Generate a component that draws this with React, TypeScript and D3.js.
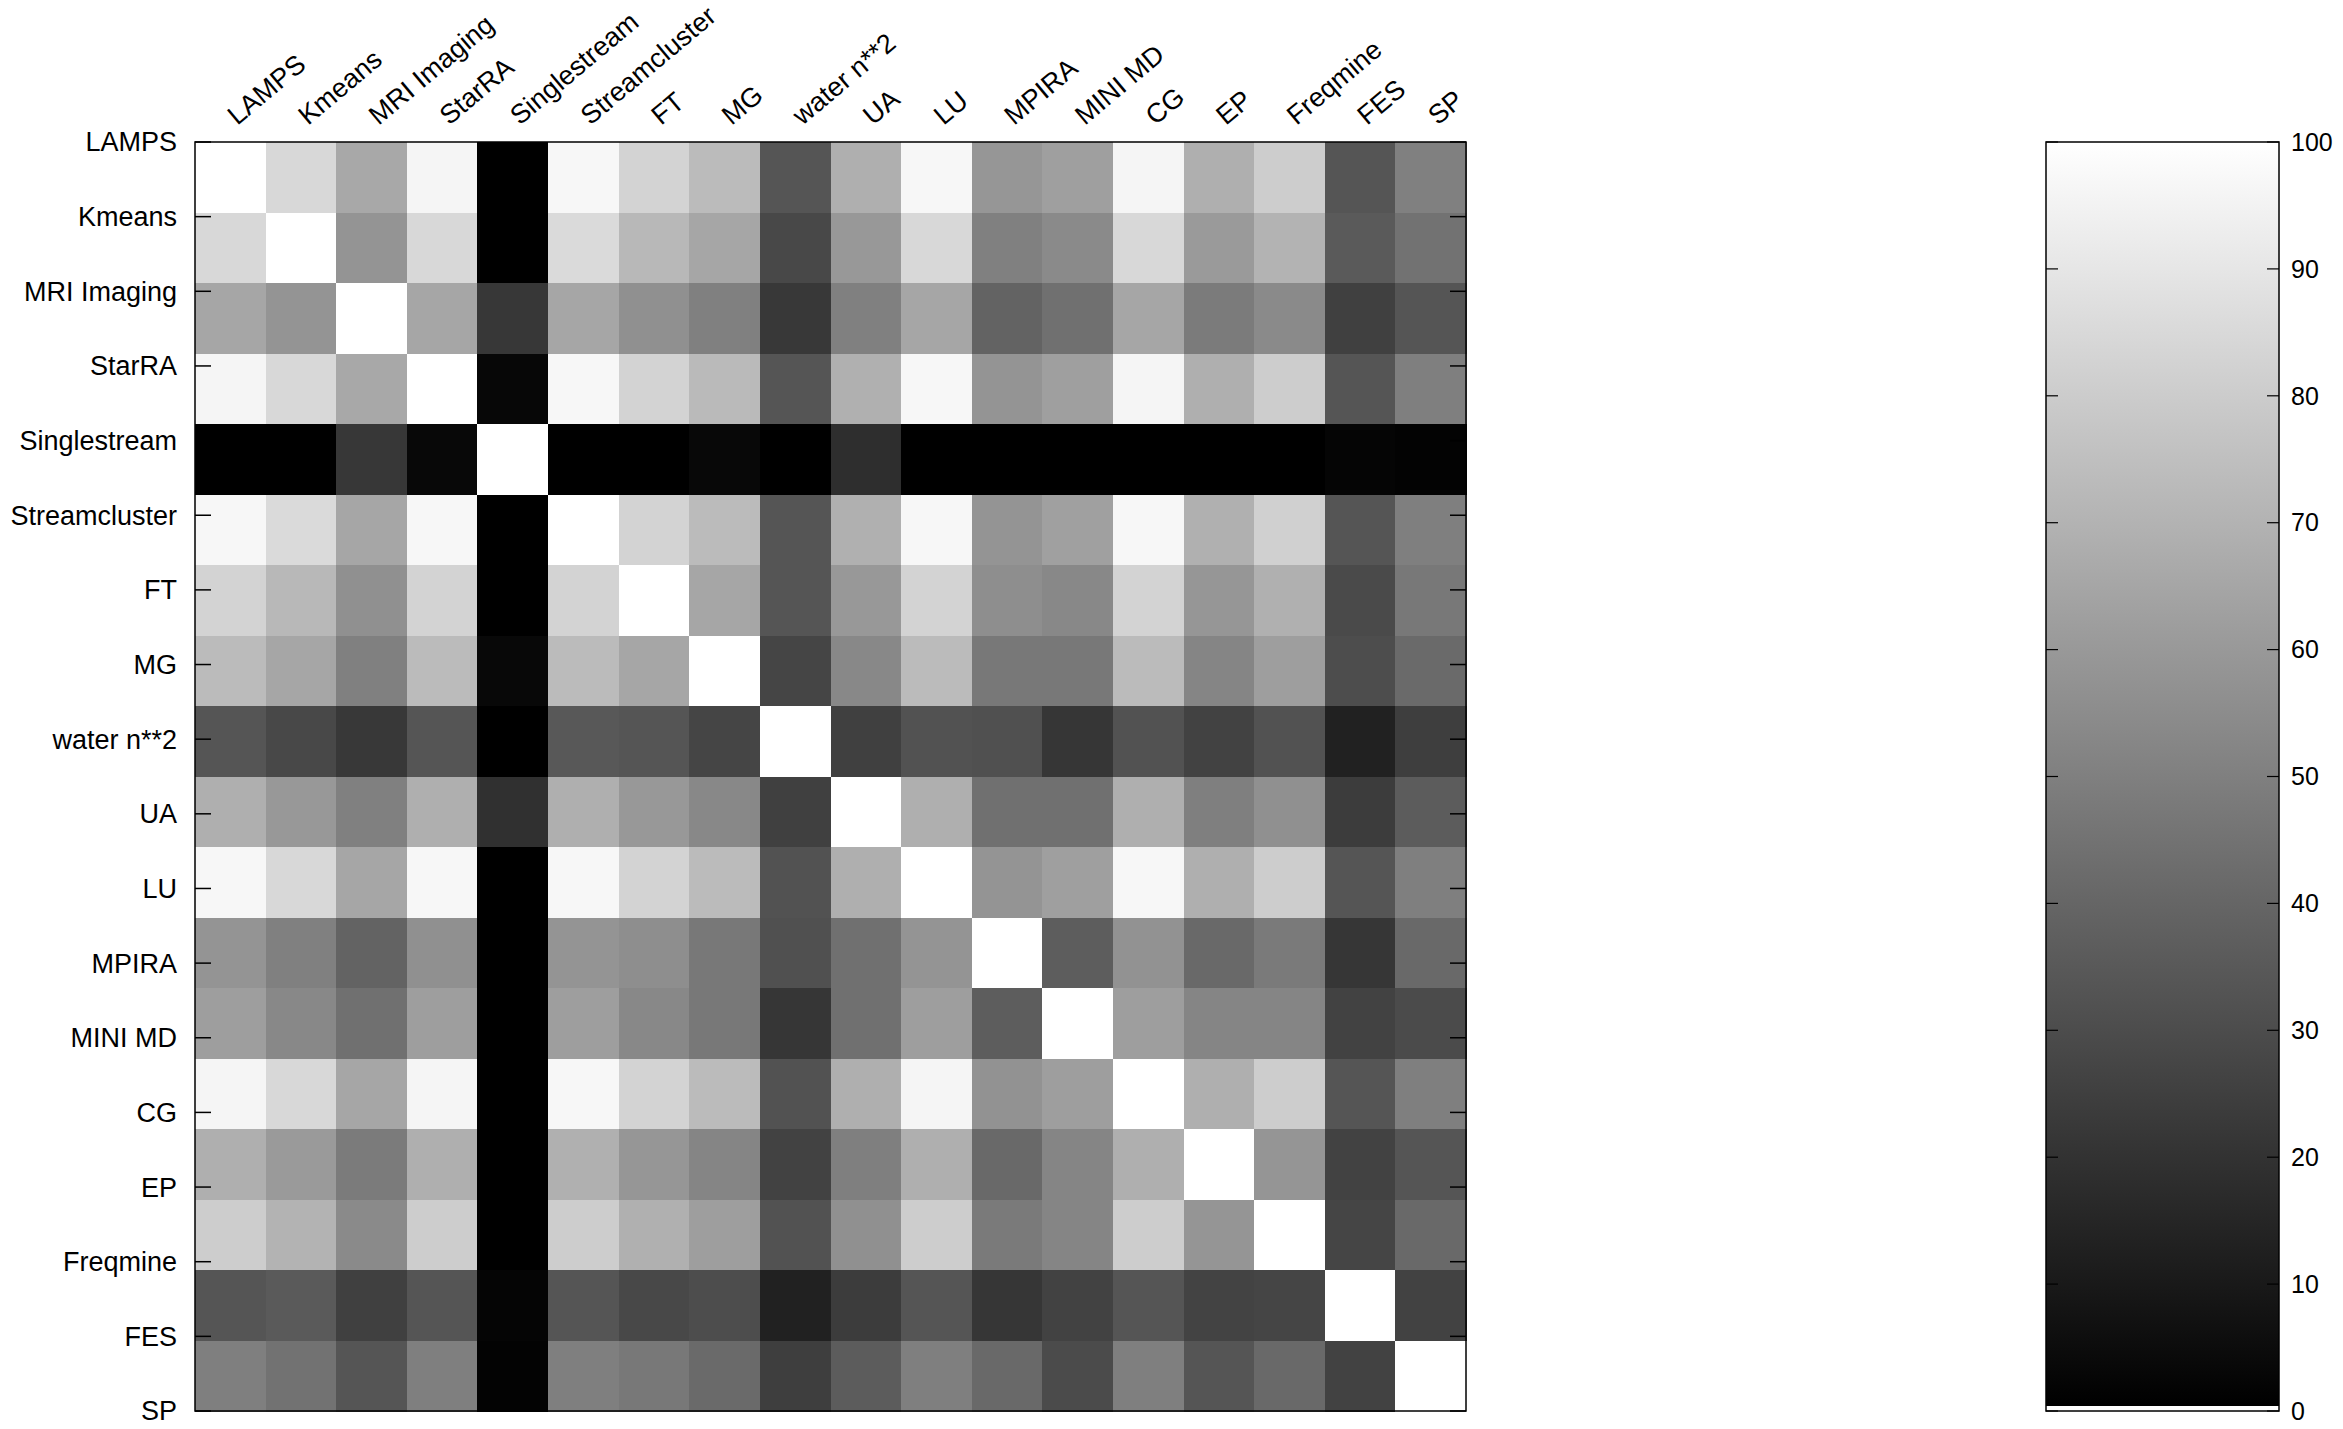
// Similarity heatmap of 18 benchmark apps with a grey colour bar
import React, { useEffect, useRef } from 'react';
import * as d3 from 'd3';

const apps = ['LAMPS', 'Kmeans', 'MRI Imaging', 'StarRA', 'Singlestream', 'Streamcluster', 'FT', 'MG', 'water n**2',
  'UA', 'LU', 'MPIRA', 'MINI MD', 'CG', 'EP', 'Freqmine', 'FES', 'SP'];

// one row per app, same order as the columns (0..100)
const rowLAMPS = [100, 84.7, 65.9, 96.1, 0, 96.9, 82.7, 73.3, 33.3, 68.6, 96.9, 58.8, 62.4, 96.1, 68.6, 80.4, 33.3, 50.2];
const rowKmeans = [84.7, 100, 58.0, 84.7, 0, 85.5, 72.2, 65.1, 28.2, 59.6, 84.7, 50.2, 54.1, 84.7, 60.4, 70.2, 35.3, 44.7];
const rowMRI = [65.1, 58.0, 100, 65.1, 21.6, 65.1, 56.5, 50.2, 22.0, 50.2, 65.1, 38.8, 43.9, 65.1, 48.2, 54.1, 25.1, 33.3];
const rowStarRA = [96.1, 84.7, 65.9, 100, 2.7, 96.9, 82.7, 72.9, 33.3, 69.0, 96.9, 58.0, 62.4, 96.1, 68.6, 80.4, 33.3, 49.8];
const rowSinglestream = [0, 0, 21.6, 3.1, 100, 0, 0, 3.1, 0, 18.0, 0, 0, 0, 0, 0, 0, 2.0, 1.2];
const rowStreamcluster = [96.9, 85.5, 65.1, 96.9, 0, 100, 82.7, 73.3, 33.3, 69.0, 96.9, 58.0, 62.7, 96.9, 69.0, 81.6, 33.3, 49.8];
const rowFT = [82.7, 72.2, 56.5, 82.7, 0, 82.7, 100, 65.1, 33.3, 59.6, 82.7, 55.7, 53.3, 82.7, 58.8, 69.0, 29.0, 47.1];
const rowMG = [73.3, 65.1, 50.2, 73.3, 3.1, 73.3, 65.1, 100, 27.1, 53.3, 73.3, 47.1, 47.1, 73.3, 52.2, 62.0, 30.2, 41.6];
const rowWater = [33.3, 28.2, 22.0, 33.3, 0, 34.5, 33.3, 27.1, 100, 25.1, 32.2, 31.4, 21.2, 32.2, 25.9, 32.2, 12.9, 24.3];
const rowUA = [68.6, 59.6, 50.2, 68.6, 18.8, 68.6, 59.6, 53.3, 25.1, 100, 68.6, 43.9, 43.9, 68.6, 49.8, 56.5, 23.5, 36.1];
const rowLU = [96.9, 84.7, 65.1, 96.9, 0, 96.9, 82.7, 73.3, 32.2, 68.6, 100, 58.0, 62.4, 96.9, 68.6, 80.4, 33.3, 49.8];
const rowMPIRA = [58.0, 50.2, 38.8, 56.5, 0, 58.0, 55.7, 47.1, 31.4, 43.9, 58.0, 100, 36.5, 57.3, 41.2, 47.8, 21.2, 41.2];
const rowMINIMD = [62.0, 53.3, 43.9, 62.0, 0, 62.0, 53.3, 47.1, 21.2, 43.9, 62.0, 36.5, 100, 62.0, 52.2, 52.2, 25.9, 29.4];
const rowCG = [96.1, 84.7, 65.1, 96.1, 0, 96.9, 82.7, 73.3, 32.2, 68.6, 96.1, 57.3, 62.0, 100, 68.6, 80.4, 33.3, 49.8];
const rowEP = [68.6, 60.4, 48.2, 68.6, 0, 69.0, 58.8, 52.2, 25.9, 49.8, 68.6, 41.2, 52.2, 68.6, 100, 58.4, 25.9, 33.3];
const rowFreqmine = [80.4, 70.2, 54.1, 80.4, 0, 80.4, 69.0, 62.0, 32.2, 56.5, 80.4, 47.8, 52.2, 80.4, 58.4, 100, 27.1, 41.2];
const rowFES = [33.3, 35.3, 25.1, 33.3, 2.0, 33.3, 28.2, 30.2, 12.9, 23.5, 33.3, 21.2, 25.9, 33.3, 26.3, 27.1, 100, 25.9];
const rowSP = [49.8, 44.7, 33.3, 49.8, 1.2, 49.8, 47.1, 41.6, 24.3, 36.1, 49.8, 41.2, 29.4, 49.8, 33.3, 41.2, 25.9, 100];

const colorbarTicks = [0, 10, 20, 30, 40, 50, 60, 70, 80, 90, 100];

const App = () => {
  const svgRef = useRef(null);

  useEffect(() => {
    const width = 2343;
    const height = 1429;
    const font = 'Liberation Sans, Arial, sans-serif';
    const rows = [rowLAMPS, rowKmeans, rowMRI, rowStarRA, rowSinglestream, rowStreamcluster, rowFT, rowMG, rowWater,
      rowUA, rowLU, rowMPIRA, rowMINIMD, rowCG, rowEP, rowFreqmine, rowFES, rowSP];

    const svg = d3.select(svgRef.current)
      .attr('width', width)
      .attr('height', height);
    svg.selectAll('*').remove();

    const left = 195, right = 1466, top = 142, bottom = 1411;

    const x = d3.scaleBand().domain(apps).range([left, right]);
    const y = d3.scaleBand().domain(apps).range([top, bottom]);
    // the row labels and ticks are spread over the full height, not on cells
    const yLab = d3.scalePoint().domain(apps).range([top, bottom]);
    const gray = d3.scaleLinear().domain([0, 100]).range(['#000000', '#ffffff']);

    const cells = rows.flatMap((r, i) => r.map((v, j) => ({ row: apps[i], col: apps[j], v })));

    svg.append('g')
      .attr('shape-rendering', 'crispEdges')
      .selectAll('rect')
      .data(cells)
      .enter()
      .append('rect')
      .attr('x', d => x(d.col))
      .attr('y', d => y(d.row))
      .attr('width', x.bandwidth() + 0.5)
      .attr('height', y.bandwidth() + 0.5)
      .attr('fill', d => gray(d.v));

    svg.append('rect')
      .attr('x', left).attr('y', top)
      .attr('width', right - left).attr('height', bottom - top)
      .attr('fill', 'none').attr('stroke', '#000').attr('stroke-width', 1.5);

    // ticks on both sides of the heatmap
    const tickLen = 16;
    const ticks = svg.append('g').attr('stroke', '#000').attr('stroke-width', 1.5);
    apps.forEach(a => {
      const yy = yLab(a);
      ticks.append('line').attr('x1', left).attr('x2', left + tickLen).attr('y1', yy).attr('y2', yy);
      ticks.append('line').attr('x1', right - tickLen).attr('x2', right).attr('y1', yy).attr('y2', yy);
    });

    svg.append('g')
      .selectAll('text')
      .data(apps)
      .enter()
      .append('text')
      .attr('x', 177)
      .attr('y', d => yLab(d))
      .attr('dy', '0.35em')
      .attr('text-anchor', 'end')
      .attr('font-family', font)
      .attr('font-size', 27)
      .text(d => d);

    svg.append('g')
      .selectAll('text')
      .data(apps)
      .enter()
      .append('text')
      .attr('transform', d => `translate(${x(d) + x.bandwidth() / 2 + 7}, 126) rotate(-40)`)
      .attr('text-anchor', 'start')
      .attr('font-family', font)
      .attr('font-size', 27)
      .text(d => d);

    // colour bar
    const cbLeft = 2046, cbRight = 2279;
    const c = d3.scaleLinear().domain([0, 100]).range([bottom, top]);
    const grad = svg.append('defs').append('linearGradient')
      .attr('id', 'cbar').attr('x1', 0).attr('x2', 0).attr('y1', 1).attr('y2', 0);
    grad.selectAll('stop')
      .data(colorbarTicks)
      .enter()
      .append('stop')
      .attr('offset', d => d / 100)
      .attr('stop-color', d => gray(d));

    svg.append('rect')
      .attr('x', cbLeft).attr('y', top)
      .attr('width', cbRight - cbLeft).attr('height', bottom - 5 - top)
      .attr('fill', 'url(#cbar)');
    svg.append('rect')
      .attr('x', cbLeft).attr('y', top)
      .attr('width', cbRight - cbLeft).attr('height', bottom - top)
      .attr('fill', 'none').attr('stroke', '#000').attr('stroke-width', 1.5);

    const cbTicks = svg.append('g').attr('stroke', '#000').attr('stroke-width', 1.2);
    colorbarTicks.forEach(t => {
      cbTicks.append('line').attr('x1', cbLeft).attr('x2', cbLeft + 12).attr('y1', c(t)).attr('y2', c(t));
      cbTicks.append('line').attr('x1', cbRight - 12).attr('x2', cbRight).attr('y1', c(t)).attr('y2', c(t));
    });

    svg.append('g')
      .selectAll('text')
      .data(colorbarTicks)
      .enter()
      .append('text')
      .attr('x', 2291)
      .attr('y', d => c(d))
      .attr('dy', '0.35em')
      .attr('font-family', font)
      .attr('font-size', 25)
      .text(d => d);
  }, []);

  return (
    <div style={{ position: 'absolute', left: 0, top: 0 }}>
      <svg ref={svgRef}></svg>
    </div>
  );
};

export default App;
